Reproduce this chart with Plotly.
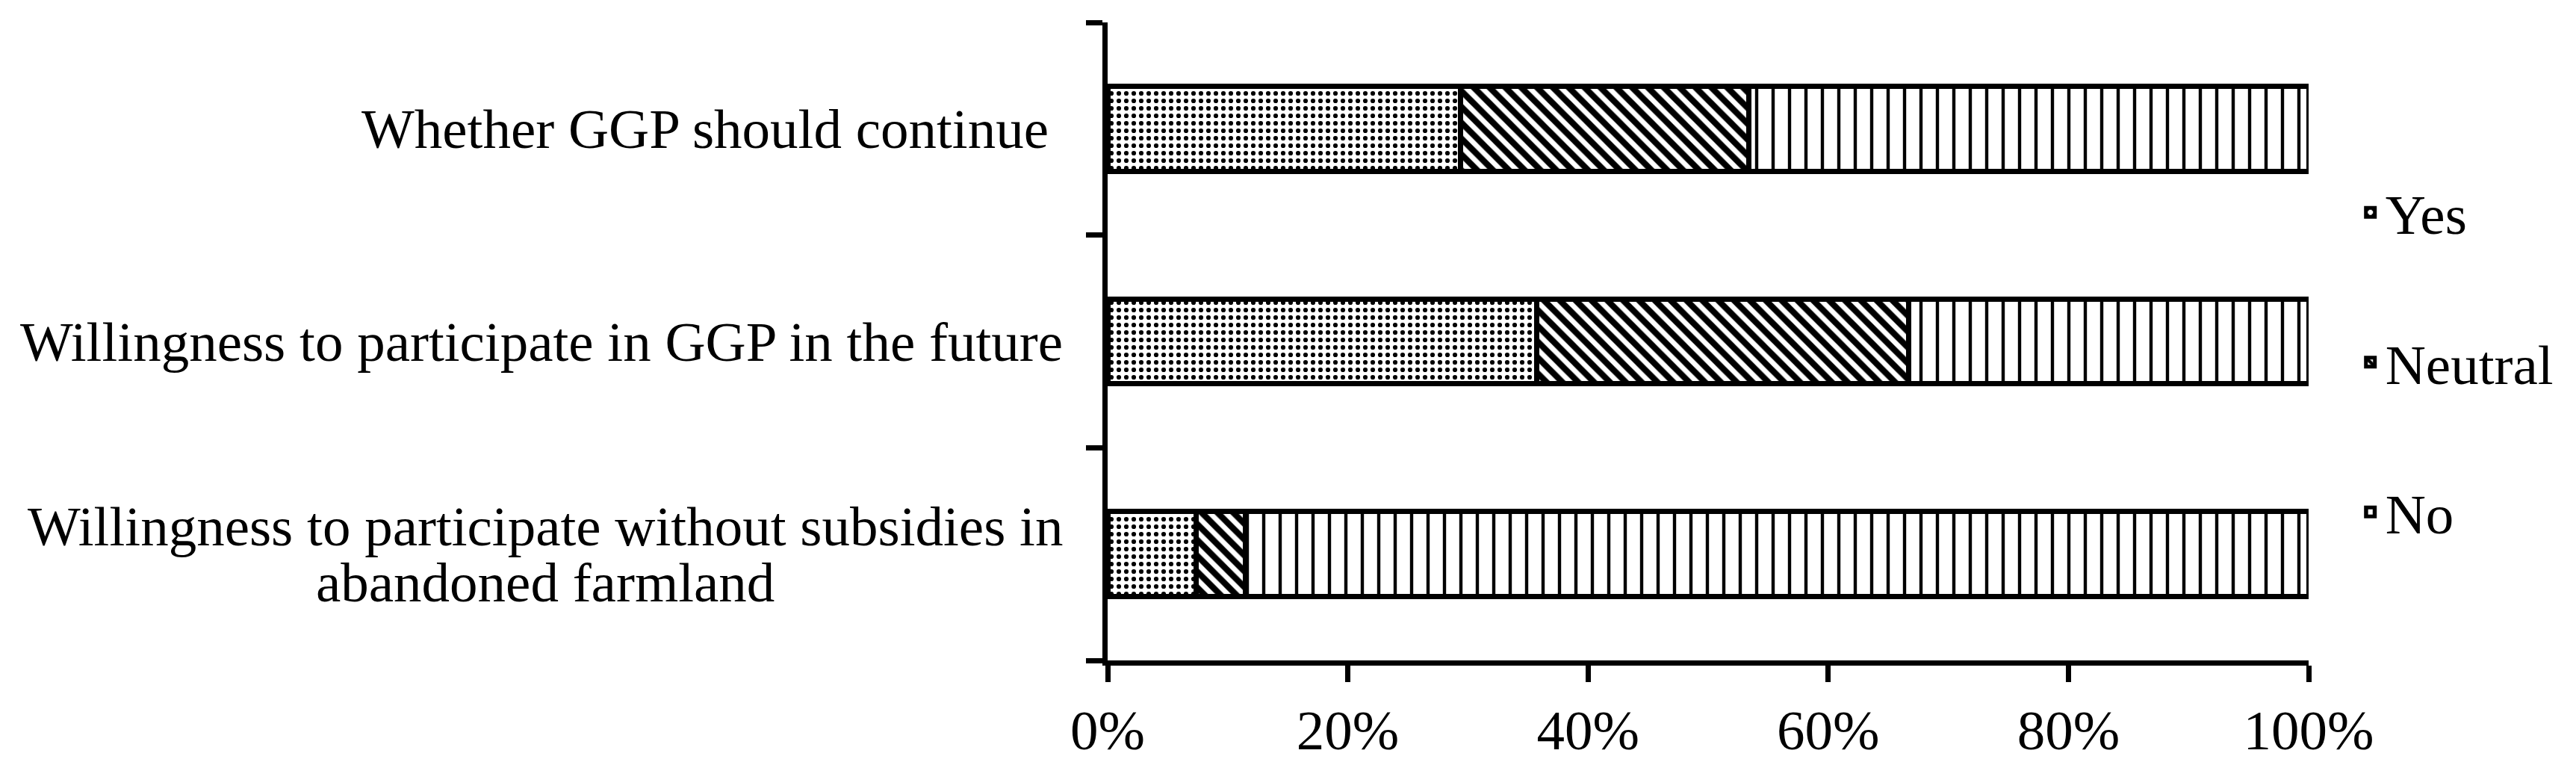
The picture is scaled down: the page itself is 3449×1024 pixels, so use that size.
import plotly.graph_objects as go

categories = [
    "Willingness to participate without subsidies in<br>abandoned farmland",
    "Willingness to participate in GGP in the future",
    "Whether GGP should continue\u00a0",
]
yes_vals = [7.4, 35.7, 29.4]
neutral_vals = [4.1, 31.0, 24.0]
no_vals = [88.5, 33.3, 46.6]
x_ticks = [0, 20, 40, 60, 80, 100]
x_ticktext = ["0%", "20%", "40%", "60%", "80%", "100%"]

FONT = "Liberation Serif, Times New Roman, serif"
FS = 75

series = [
    ("Yes", yes_vals, dict(shape=".", size=10, solidity=0.3)),
    ("Neutral", neutral_vals, dict(shape="\\", size=15, solidity=0.55)),
    ("No", no_vals, dict(shape="|", size=22, solidity=0.2)),
]

fig = go.Figure()
for i, (name, vals, pat) in enumerate(series):
    fig.add_trace(go.Bar(
        y=categories, x=vals, name=name, orientation="h", width=0.4,
        legendgroup=name,
        marker=dict(color="white", line=dict(color="black", width=7),
                    pattern=dict(fgcolor="black", bgcolor="white", fillmode="replace", **pat)),
    ))

# category labels: centred lines, block right-aligned next to the axis,
# with a line pitch of about one em as in the reference
for c in categories:
    lines = c.split("<br>")
    txt = "<br>".join(f'<span style="font-size:{FS}px">{ln}</span>' for ln in lines)
    fig.add_annotation(
        x=0, xref="paper", y=c, yref="y", text=txt, showarrow=False,
        xanchor="right", yanchor="middle", align="center", xshift=-58,
        font=dict(family=FONT, size=FS / 1.3, color="black"),
    )

fig.update_layout(
    width=3449, height=1024,
    margin=dict(l=1475, r=366, t=22, b=148),
    barmode="stack",
    plot_bgcolor="white", paper_bgcolor="white",
    font=dict(family=FONT, size=FS, color="black"),
    showlegend=True,
    legend=dict(
        x=1.039, xanchor="left", y=0.767, yanchor="top",
        traceorder="grouped", tracegroupgap=100,
        font=dict(family=FONT, size=FS, color="black"),
        bgcolor="rgba(0,0,0,0)",
    ),
    xaxis=dict(
        range=[0, 100], tickvals=x_ticks, ticktext=x_ticktext,
        showline=True, linecolor="black", linewidth=7,
        ticks="outside", ticklen=22, tickwidth=7, tickcolor="black",
        showgrid=False, zeroline=False,
        tickfont=dict(family=FONT, size=FS, color="black"),
    ),
    yaxis=dict(
        type="category", categoryorder="array", categoryarray=categories,
        range=[-0.5, 2.5], tickson="boundaries",
        showline=True, linecolor="black", linewidth=7,
        ticks="outside", ticklen=22, tickwidth=7, tickcolor="black",
        showgrid=False, zeroline=False, showticklabels=False,
    ),
)

fig.write_html("out.html")
